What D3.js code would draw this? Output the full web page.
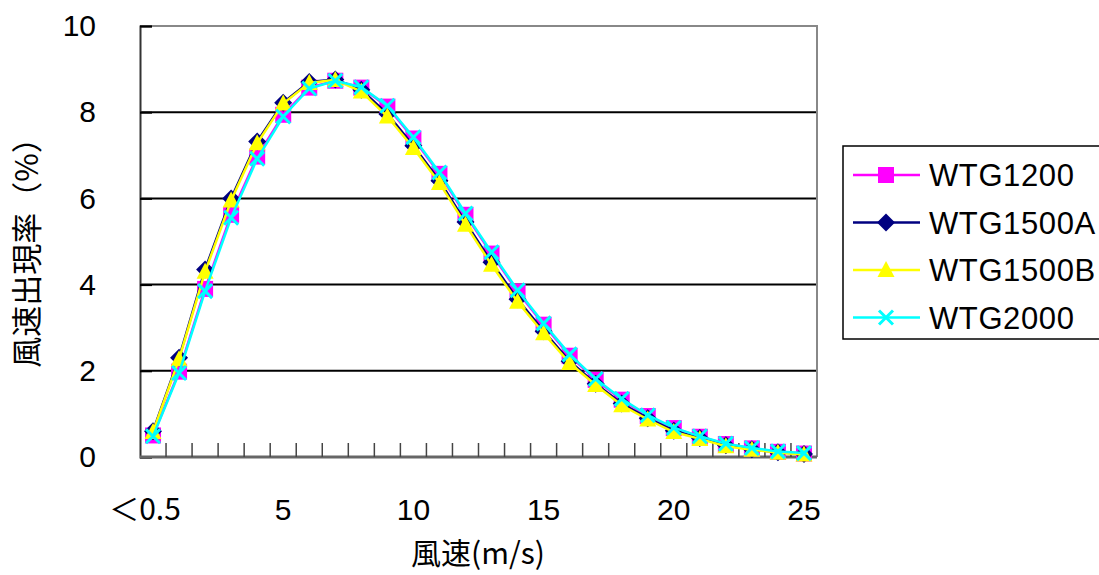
<!DOCTYPE html>
<html>
<head>
<meta charset="utf-8">
<script src="https://cdn.jsdelivr.net/npm/d3@7"></script>
<style>
  body { margin: 0; background: #fff; }
  text { font-family: "Liberation Sans", Arial, sans-serif; fill: #000; }
  .cjk { font-family: "Noto Sans CJK JP", sans-serif; }
</style>
</head>
<body>
<svg id="chart" width="1099" height="575"></svg>
<script>
// categories (wind speed bins)
const speeds = ["＜0.5", "1", "2", "3", "4", "5", "6", "7", "8", "9", "10", "11", "12", "13",
                "14", "15", "16", "17", "18", "19", "20", "21", "22", "23", "24", "25"];
const shownLabels = ["＜0.5", "5", "10", "15", "20", "25"];
const yTicks = [0, 2, 4, 6, 8, 10];

const seriesNames = ["WTG1200", "WTG1500A", "WTG1500B", "WTG2000"];
const wtg1200  = [0.50, 1.98, 3.90, 5.62, 6.97, 7.94, 8.57, 8.73, 8.57, 8.13, 7.39, 6.57, 5.62, 4.72,
                  3.84, 3.07, 2.35, 1.79, 1.33, 0.95, 0.67, 0.47, 0.30, 0.20, 0.12, 0.08];
const wtg1500a = [0.60, 2.30, 4.35, 6.00, 7.32, 8.22, 8.70, 8.76, 8.52, 7.96, 7.22, 6.41, 5.45, 4.52,
                  3.66, 2.92, 2.22, 1.70, 1.24, 0.90, 0.61, 0.44, 0.27, 0.18, 0.11, 0.07];
const wtg1500b = [0.58, 2.27, 4.30, 5.95, 7.28, 8.20, 8.68, 8.75, 8.48, 7.90, 7.17, 6.36, 5.39, 4.46,
                  3.60, 2.87, 2.18, 1.67, 1.20, 0.87, 0.58, 0.42, 0.25, 0.17, 0.10, 0.06];
const wtg2000  = [0.48, 1.95, 3.85, 5.55, 6.92, 7.90, 8.55, 8.73, 8.58, 8.15, 7.42, 6.60, 5.65, 4.75,
                  3.87, 3.10, 2.38, 1.81, 1.35, 0.97, 0.68, 0.48, 0.31, 0.21, 0.13, 0.09];
const seriesValues = [wtg1200, wtg1500a, wtg1500b, wtg2000];
const seriesColors = ["#ff00ff", "#000080", "#ffff00", "#00ffff"];
const seriesMarkers = ["square", "diamond", "triangle", "cross"];

const svg = d3.select("#chart");
const plotL = 140, plotR = 817, plotT = 26, plotB = 457;

const x = d3.scaleBand().domain(speeds).range([plotL, plotR]);
const y = d3.scaleLinear().domain([0, 10]).range([plotB, plotT]);

// gridlines
svg.append("g").selectAll("line")
  .data(yTicks.filter(d => d > 0 && d < 10))
  .enter().append("line")
  .attr("x1", plotL).attr("x2", plotR)
  .attr("y1", d => y(d)).attr("y2", d => y(d))
  .attr("stroke", "#000").attr("stroke-width", 2);

// plot border (top/right gray)
svg.append("path")
  .attr("d", `M${plotL},${plotT}H${plotR}V${plotB}`)
  .attr("fill", "none").attr("stroke", "#888").attr("stroke-width", 2);

// y axis
const yAxis = svg.append("g")
  .attr("transform", `translate(${plotL},0)`)
  .call(d3.axisLeft(y).tickValues(yTicks).tickSize(-12).tickPadding(44).tickFormat(d3.format("d")));
yAxis.select(".domain").attr("stroke", "#333").attr("stroke-width", 2);
yAxis.selectAll(".tick line").attr("stroke", "#000").attr("stroke-width", 2);
yAxis.selectAll("text").style("font-size", "30px").attr("fill", "#000");

// x axis: ticks between categories, labels at some categories
const xg = svg.append("g");
xg.append("line")
  .attr("x1", plotL).attr("x2", plotR).attr("y1", plotB).attr("y2", plotB)
  .attr("stroke", "#666").attr("stroke-width", 3);
xg.selectAll(".xt")
  .data(speeds.slice(1))
  .enter().append("line")
  .attr("x1", d => x(d)).attr("x2", d => x(d))
  .attr("y1", plotB).attr("y2", plotB - 14)
  .attr("stroke", "#444").attr("stroke-width", 1.5);
xg.selectAll(".xl")
  .data(shownLabels)
  .enter().append("text")
  .attr("class", d => d.startsWith("＜") ? "cjk" : null)
  .attr("x", d => x(d) + x.bandwidth() / 2 - (d.startsWith("＜") ? 8 : 0))
  .attr("y", 520)
  .attr("text-anchor", "middle")
  .style("font-size", "30px")
  .text(d => d);

// axis titles
svg.append("text")
  .attr("class", "cjk")
  .attr("x", 478).attr("y", 564)
  .attr("text-anchor", "middle")
  .style("font-size", "30px")
  .text("風速(m/s)");

svg.append("text")
  .attr("class", "cjk")
  .attr("transform", "translate(38,245) rotate(-90)")
  .attr("text-anchor", "middle")
  .style("font-size", "31px")
  .text("風速出現率（%）");

// markers
function drawMarker(g, type, color, cx, cy) {
  if (type === "square") {
    g.append("rect").attr("x", cx - 8).attr("y", cy - 8).attr("width", 16).attr("height", 16)
      .attr("fill", color);
  } else if (type === "diamond") {
    g.append("path").attr("d", `M${cx},${cy - 9}L${cx + 9},${cy}L${cx},${cy + 9}L${cx - 9},${cy}Z`)
      .attr("fill", color);
  } else if (type === "triangle") {
    g.append("path").attr("d", `M${cx},${cy - 9}L${cx + 8.5},${cy + 7}L${cx - 8.5},${cy + 7}Z`)
      .attr("fill", color);
  } else {
    g.append("path").attr("d", `M${cx - 7},${cy - 7}L${cx + 7},${cy + 7}M${cx + 7},${cy - 7}L${cx - 7},${cy + 7}`)
      .attr("stroke", color).attr("stroke-width", 3);
  }
}

const line = d3.line()
  .x((d, i) => x(speeds[i]) + x.bandwidth() / 2)
  .y(d => y(d));

seriesValues.forEach((vals, s) => {
  const g = svg.append("g");
  g.append("path")
    .datum(vals)
    .attr("d", line)
    .attr("fill", "none")
    .attr("stroke", seriesColors[s])
    .attr("stroke-width", 2.5);
  vals.forEach((v, i) => {
    drawMarker(g, seriesMarkers[s], seriesColors[s], x(speeds[i]) + x.bandwidth() / 2, y(v));
  });
});

// legend
const lg = svg.append("g");
lg.append("rect")
  .attr("x", 843).attr("y", 146).attr("width", 270).attr("height", 193)
  .attr("fill", "#fff").attr("stroke", "#000").attr("stroke-width", 1.5);
seriesNames.forEach((name, s) => {
  const ly = 175 + s * 47.5;
  lg.append("line").attr("x1", 853).attr("x2", 920).attr("y1", ly).attr("y2", ly)
    .attr("stroke", seriesColors[s]).attr("stroke-width", 2.5);
  drawMarker(lg, seriesMarkers[s], seriesColors[s], 886, ly);
  lg.append("text")
    .attr("x", 929).attr("y", ly + 11)
    .style("font-size", "31px")
    .style("letter-spacing", "0.6px")
    .text(name);
});
</script>
</body>
</html>
